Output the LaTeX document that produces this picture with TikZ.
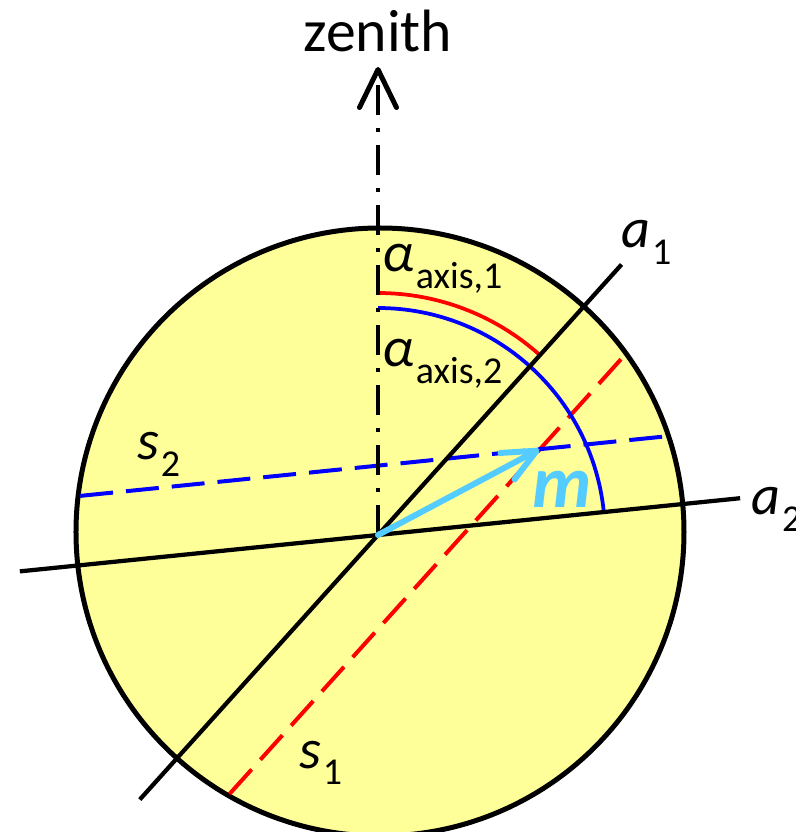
\documentclass[tikz,border=0pt]{standalone}
\usepackage{fontspec}
\setmainfont{Carlito}
\usepackage{tikz}
\usetikzlibrary{arrows.meta, positioning}
\definecolor{diskfill}{RGB}{255,255,153}
\definecolor{mcyan}{RGB}{85,204,255}
\newcommand{\sublbl}[2]{\textit{#1}\kern1pt\raisebox{-9.5pt}{\fontsize{21.6}{22}\selectfont #2}}

\begin{document}
\begin{tikzpicture}[
    x=0.02cm, y=0.02cm,
    axisline/.style={line width=0.085cm},
    trace/.style={line width=0.08cm, dash pattern=on 0.66cm off 0.26cm},
    angarc/.style={line width=0.075cm},
    zenline/.style={line width=0.07cm, dash pattern=on 0.6cm off 0.26cm on 0.08cm off 0.26cm,
        -{Straight Barb[length=0.76cm, width=0.74cm, line width=0.1cm, round]}},
    marrow/.style={line width=0.12cm, mcyan, line cap=round,
        -{Straight Barb[length=0.66cm, width=0.6cm, line width=0.12cm, round]}},
    lbltext/.style={anchor=base west, inner sep=0pt, font=\fontsize{32}{34}\selectfont}
]

\useasboundingbox (-378,-297) rectangle (417,535);

\coordinate (O) at (0,0);
\coordinate (C) at (2,3);

% Disk
\fill[diskfill] (C) circle (304);
\draw[line width=0.1cm] (C) circle (304);

% Traces
\coordinate (s1lo) at (-148.4,-258.9);
\coordinate (s1hi) at (246.7,179.9);
\coordinate (s2lo) at (-297.8,39.1);
\coordinate (s2hi) at (288.5,98.7);
\draw[trace, red] (s1lo) -- (s1hi);
\draw[trace, blue] (s2lo) -- (s2hi);

% Angle arcs
\draw[angarc, red] (0,242) arc[start angle=90, end angle=48, radius=242];
\draw[angarc, blue] (0,227) arc[start angle=90, end angle=5.8, radius=227];

% Axes
\coordinate (a1lo) at (228:356);
\coordinate (a1hi) at (48:364);
\coordinate (a2lo) at (185.8:360);
\coordinate (a2hi) at (5.8:364);
\draw[axisline] (a1lo) -- (a1hi);
\draw[axisline] (a2lo) -- (a2hi);

% Zenith
\coordinate (zentip) at (0,468);
\draw[zenline] (O) -- (zentip);
\node[anchor=base, inner sep=0pt, font=\fontsize{34}{36}\selectfont] (zenith) at (0,483) {zenith};

% Vector m
\coordinate (mtip) at (161.3,85.7);
\draw[marrow] (O) -- (mtip);
\node[anchor=base, inner sep=0pt, text=mcyan, font=\fontsize{42}{44}\selectfont\bfseries\itshape] (mlbl) at (184,28) {m};

% Labels
\node[lbltext] (a1lbl) at (243,287) {\sublbl{a}{1}};
\node[lbltext] (a2lbl) at (373,20) {\sublbl{a}{2}};
\node[lbltext] (s1lbl) at (-79,-233) {\sublbl{s}{1}};
\node[lbltext] (s2lbl) at (-241,75) {\sublbl{s}{2}};
\node[lbltext] (alpha1) at (4,263) {\sublbl{α}{axis,1}};
\node[lbltext] (alpha2) at (4,168) {\sublbl{α}{axis,2}};

\end{tikzpicture}
\end{document}
